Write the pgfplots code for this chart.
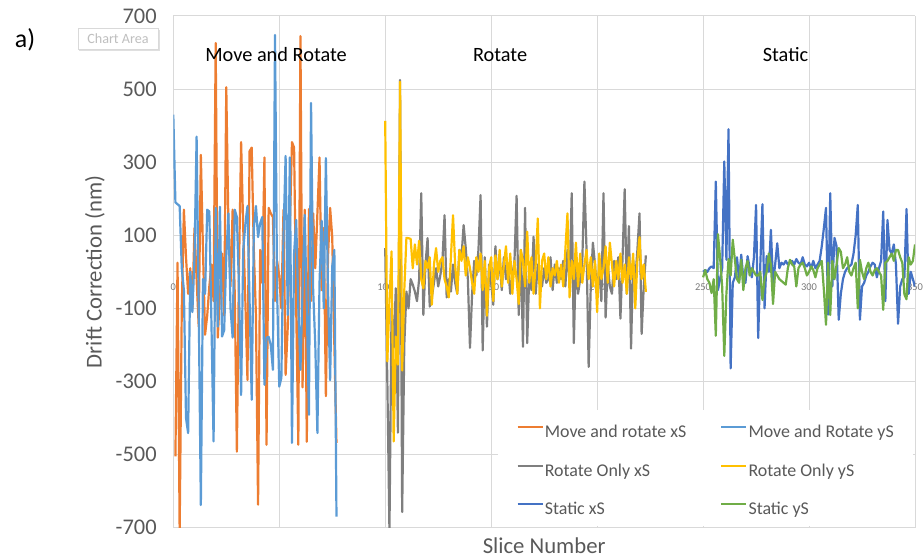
\documentclass[border=0pt]{standalone}
\usepackage{pgfplots}
\pgfplotsset{compat=1.18}
\usepackage{fontspec}
\setmainfont{Carlito}
\usetikzlibrary{shadows}
\definecolor{cOr}{HTML}{ED7D31}
\definecolor{cLb}{HTML}{5B9BD5}
\definecolor{cGr}{HTML}{7F7F7F}
\definecolor{cGo}{HTML}{FFC000}
\definecolor{cBl}{HTML}{4472C4}
\definecolor{cGn}{HTML}{70AD47}
\definecolor{gridc}{HTML}{D9D9D9}
\definecolor{txt}{HTML}{595959}
\begin{document}
\begin{tikzpicture}[x=1bp,y=1bp]
\useasboundingbox (-173.3,-30.3) rectangle (750.7,527.7);
\node[font=\fontsize{26}{26}\selectfont, text=black] at (-148.3,487.7) {a)};
\node[font=\fontsize{14.2}{14.2}\selectfont, text=black!25, draw=black!15, fill=white, drop shadow={opacity=0.25,shadow xshift=1.5bp,shadow yshift=-1.5bp}, minimum width=80bp, minimum height=21bp, inner sep=2bp] at (-55.3,488.7) {Chart Area};
\begin{axis}[
  scale only axis, width=741.7bp, height=511.7bp,
  xmin=0, xmax=350, ymin=-700, ymax=700,
  axis x line*=middle, axis y line*=left,
  hide obscured x ticks=false,
  xtick={0,50,...,350}, ytick={-700,-500,...,700},
  grid=major, major grid style={gridc, line width=1bp},
  axis line style={gridc, line width=1bp},
  major tick length=0pt,
  /pgf/number format/assume math mode=true,
  yticklabel style={font=\fontsize{22.5}{22.5}\selectfont, text=txt, xshift=-13.1bp},
  xticklabel style={font=\fontsize{10.5}{10.5}\selectfont, text=txt!80, anchor=center, yshift=-15bp},
  xlabel={Slice Number}, ylabel={Drift Correction (nm)},
  label style={font=\fontsize{22.8}{22.8}\selectfont, text=txt},
  xlabel style={at={(axis description cs:0.5,-0.0358)}, anchor=center},
  ylabel style={at={(axis description cs:-0.1056,0.5)}, anchor=center},
  legend columns=2, legend cell align=left,
  legend style={at={(axis cs:162,-416)}, anchor=north west, draw=none, fill=none,
    inner sep=0pt, outer sep=0pt, font=\fontsize{18}{18}\selectfont, text=txt,
    row sep=19.5bp, /tikz/every even column/.append style={column sep=33bp},
    nodes={inner sep=1bp, text height=13bp, text depth=4bp}},
  legend image code/.code={\draw[#1, line width=2.2bp] (0bp,6bp) -- (25bp,6bp);},
  every axis plot/.append style={line width=2.2bp, line join=round, no markers},
]
\fill[white] (axis cs:153.2,-378) rectangle (axis cs:349.1,-695.3);
\addplot[cOr] coordinates {
(1,-505)(2,25)(3,-710)(4,-100)(5,170)(6,40)(7,-60)(8,10)(9,-100)(10,120)
(11,-20)(12,-150)(13,320)(14,60)(15,-172)(16,-120)(17,-40)(18,20)(19,-80)(20,626)
(21,-180)(22,-60)(23,50)(24,-120)(25,505)(26,130)(27,-40)(28,170)(29,-60)(30,-492)
(31,10)(32,355)(33,120)(34,-80)(35,-296)(36,330)(37,340)(38,60)(39,-120)(40,-637)
(41,60)(42,-30)(43,313)(44,-473)(45,175)(46,160)(47,150)(48,-80)(49,30)(50,-12)
(51,-100)(52,170)(53,-282)(54,-153)(55,120)(56,355)(57,340)(58,-100)(59,-473)(60,645)
(61,-316)(62,170)(63,-465)(64,172)(65,-80)(66,160)(67,10)(68,160)(69,313)(70,-50)
(71,120)(72,-340)(73,40)(74,175)(75,95)(76,-200)(77,-468)
};
\addlegendentry{Move and rotate xS}
\addplot[cLb] coordinates {
(0,430)(1,190)(2,185)(3,180)(4,10)(5,-50)(6,-400)(7,-441)(8,0)(9,-110)
(10,40)(11,370)(12,-100)(13,-638)(14,-20)(15,-60)(16,170)(17,165)(18,-140)(19,-464)
(20,175)(21,-150)(22,178)(23,-177)(24,-160)(25,40)(26,160)(27,-100)(28,-180)(29,170)
(30,150)(31,-40)(32,-337)(33,60)(34,130)(35,180)(36,-80)(37,-350)(38,120)(39,180)
(40,95)(41,133)(42,150)(43,-309)(44,-180)(45,-178)(46,-200)(47,-268)(48,648)(49,-60)
(50,-314)(51,-290)(52,100)(53,317)(54,-118)(55,313)(56,-468)(57,50)(58,142)(59,-100)
(60,-268)(61,-50)(62,156)(63,-100)(64,-391)(65,462)(66,-50)(67,-200)(68,-441)(69,-30)
(70,140)(71,-100)(72,311)(73,-50)(74,-296)(75,15)(76,60)(77,-670)
};
\addlegendentry{Move and Rotate yS}
\addplot[cGr] coordinates {
(100,65)(101,-300)(102,-710)(103,-100)(104,-208)(105,-45)(106,-440)(107,525)(108,-657)(109,-200)
(110,-54)(111,-100)(112,-20)(113,-35)(114,-54)(115,-80)(116,-20)(117,215)(118,-118)(119,20)
(120,92)(121,-95)(122,-70)(123,-30)(124,10)(125,-40)(126,-10)(127,30)(128,155)(129,-70)
(130,-20)(131,-54)(132,20)(133,-30)(134,-60)(135,60)(136,40)(137,128)(138,65)(139,-20)
(140,-208)(141,-60)(142,30)(143,-10)(144,60)(145,210)(146,-215)(147,40)(148,-150)(149,20)
(150,-30)(151,-90)(152,70)(153,-20)(154,30)(155,-50)(156,40)(157,-20)(158,10)(159,-60)
(160,-10)(161,30)(162,208)(163,-118)(164,60)(165,-205)(166,175)(167,-195)(168,0)(169,-50)
(170,96)(171,-60)(172,20)(173,-10)(174,-40)(175,10)(176,-30)(177,-20)(178,40)(179,-50)
(180,20)(181,-30)(182,10)(183,-20)(184,30)(185,-40)(186,60)(187,-30)(188,215)(189,-195)
(190,40)(191,-60)(192,-20)(193,30)(194,247)(195,60)(196,-260)(197,-40)(198,80)(199,20)
(200,-60)(201,10)(202,-80)(203,215)(204,-125)(205,20)(206,-40)(207,-60)(208,30)(209,-20)
(210,40)(211,-128)(212,40)(213,226)(214,-60)(215,125)(216,-210)(217,30)(218,-20)(219,60)
(220,160)(221,-170)(222,-40)(223,45)
};
\addlegendentry{Rotate Only xS}
\addplot[cGo] coordinates {
(100,413)(101,-245)(102,-80)(103,56)(104,-464)(105,-177)(106,-254)(107,520)(108,-270)(109,-50)
(110,93)(111,92)(112,90)(113,10)(114,75)(115,20)(116,85)(117,-20)(118,-45)(119,30)
(120,10)(121,40)(122,-90)(123,20)(124,65)(125,0)(126,30)(127,40)(128,-20)(129,-40)
(130,-70)(131,40)(132,155)(133,20)(134,-60)(135,60)(136,30)(137,70)(138,-10)(139,40)
(140,10)(141,-30)(142,-60)(143,40)(144,0)(145,50)(146,-50)(147,30)(148,-120)(149,10)
(150,40)(151,-80)(152,45)(153,-20)(154,60)(155,-40)(156,20)(157,70)(158,-30)(159,50)
(160,-60)(161,30)(162,-20)(163,-88)(164,60)(165,30)(166,-40)(167,110)(168,-30)(169,40)
(170,-60)(171,20)(172,146)(173,-100)(174,30)(175,50)(176,-20)(177,40)(178,-40)(179,10)
(180,-10)(181,30)(182,-30)(183,20)(184,-40)(185,60)(186,160)(187,-70)(188,30)(189,-20)
(190,80)(191,-40)(192,50)(193,-30)(194,20)(195,60)(196,-20)(197,40)(198,-40)(199,30)
(200,-110)(201,50)(202,-20)(203,10)(204,70)(205,-30)(206,80)(207,20)(208,-40)(209,30)
(210,-20)(211,50)(212,-30)(213,20)(214,-60)(215,40)(216,-20)(217,50)(218,-100)(219,30)
(220,95)(221,-20)(222,20)(223,-55)
};
\addlegendentry{Rotate Only yS}
\addplot[cBl] coordinates {
(250,0)(251,5)(252,0)(253,10)(254,15)(255,10)(256,247)(257,-50)(258,-20)(259,10)
(260,302)(261,33)(262,390)(263,-264)(264,-30)(265,-15)(266,40)(267,-25)(268,47)(269,-20)
(270,-30)(271,43)(272,10)(273,-15)(274,40)(275,183)(276,-181)(277,20)(278,185)(279,-100)
(280,43)(281,0)(282,115)(283,-30)(284,20)(285,78)(286,10)(287,25)(288,20)(289,30)
(290,20)(291,25)(292,30)(293,20)(294,35)(295,25)(296,20)(297,40)(298,20)(299,15)
(300,25)(301,10)(302,30)(303,10)(304,20)(305,30)(306,70)(307,120)(308,175)(309,-117)
(310,215)(311,-40)(312,93)(313,70)(314,-131)(315,-60)(316,-20)(317,0)(318,10)(319,15)
(320,20)(321,50)(322,100)(323,183)(324,-131)(325,-40)(326,-30)(327,-10)(328,0)(329,15)
(330,25)(331,20)(332,-15)(333,10)(334,30)(335,165)(336,-80)(337,142)(338,60)(339,50)
(340,75)(341,20)(342,-142)(343,-40)(344,-20)(345,-15)(346,172)(347,-60)(348,0)(349,-20)
(350,-40)
};
\addlegendentry{Static xS}
\addplot[cGn] coordinates {
(250,-15)(251,5)(252,-20)(253,-30)(254,-58)(255,-20)(256,-175)(257,103)(258,40)(259,-40)
(260,-230)(261,-60)(262,35)(263,-10)(264,88)(265,33)(266,-20)(267,-30)(268,33)(269,-50)
(270,10)(271,30)(272,-10)(273,10)(274,0)(275,-10)(276,-10)(277,0)(278,-77)(279,-20)
(280,0)(281,50)(282,20)(283,-88)(284,0)(285,-10)(286,-20)(287,-25)(288,-30)(289,-35)
(290,10)(291,33)(292,20)(293,15)(294,-40)(295,10)(296,20)(297,25)(298,10)(299,-10)
(300,0)(301,15)(302,5)(303,-15)(304,10)(305,20)(306,30)(307,-50)(308,-145)(309,25)
(310,-118)(311,30)(312,-20)(313,20)(314,65)(315,55)(316,10)(317,20)(318,40)(319,0)
(320,-10)(321,10)(322,25)(323,-100)(324,33)(325,0)(326,-20)(327,10)(328,25)(329,0)
(330,-10)(331,5)(332,10)(333,0)(334,-10)(335,-104)(336,25)(337,30)(338,40)(339,50)
(340,30)(341,60)(342,60)(343,40)(344,25)(345,-62)(346,-75)(347,40)(348,20)(349,30)
(350,75)
};
\addlegendentry{Static yS}
\node[font=\fontsize{20.4}{20.4}\selectfont, text=black] at (axis cs:48.5,594) {Move and Rotate};
\node[font=\fontsize{20.4}{20.4}\selectfont, text=black] at (axis cs:154.2,594) {Rotate};
\node[font=\fontsize{20.4}{20.4}\selectfont, text=black] at (axis cs:288.9,594) {Static};
\end{axis}
\end{tikzpicture}
\end{document}
